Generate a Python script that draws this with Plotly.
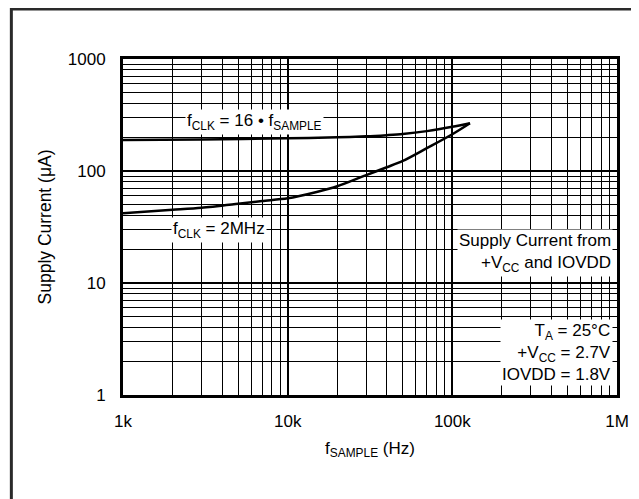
import plotly.graph_objects as go

# Data
f_sample_16 = [1000, 3000, 10000, 20000, 30000, 40000, 50000, 70000, 100000, 128000]
i_16 = [189, 191, 196, 200, 204, 209, 214, 227, 248, 267]

f_sample_2m = [1000, 2000, 3000, 5000, 7000, 10000, 15000, 20000, 30000, 40000, 50000, 70000, 100000, 128000]
i_2m = [42, 45, 47, 51, 54, 57, 65, 73, 92, 108, 123, 160, 213, 267]

x_tickvals = [1e3, 1e4, 1e5, 1e6]
x_ticktext = ["1k", "10k", "100k", "1M"]
y_tickvals = [1, 10, 100, 1000]
y_ticktext = ["1", "10", "100", "1000"]

FONT = "Liberation Sans, Arial, sans-serif"
FS = 17

fig = go.Figure()
fig.add_trace(go.Scatter(x=f_sample_16, y=i_16, mode="lines",
                         line=dict(color="black", width=2.5, shape="spline", smoothing=0.8),
                         showlegend=False))
fig.add_trace(go.Scatter(x=f_sample_2m, y=i_2m, mode="lines",
                         line=dict(color="black", width=2.5, shape="spline", smoothing=0.8),
                         showlegend=False))

axis_common = dict(
    type="log", showline=True, linecolor="black", linewidth=3, mirror=True,
    showgrid=True, gridcolor="black", gridwidth=1.6,
    ticks="", zeroline=False,
    tickfont=dict(family=FONT, size=FS, color="black"),
    minor=dict(dtick="D1", showgrid=True, gridcolor="black", gridwidth=1, ticks=""),
)

fig.update_xaxes(range=[3, 6], tickvals=x_tickvals, ticktext=x_ticktext,
                 title=dict(text="f<sub>SAMPLE</sub> (Hz)", font=dict(family=FONT, size=FS, color="black"),
                            standoff=12),
                 ticklabelstandoff=9, **axis_common)
fig.update_yaxes(range=[0, 3], tickvals=y_tickvals, ticktext=y_ticktext,
                 title=dict(text="Supply Current (μA)", font=dict(family=FONT, size=FS + 0.5, color="black"),
                            standoff=12),
                 ticklabelstandoff=11, **axis_common)

ann_font = dict(family=FONT, size=FS, color="black")
annotations = [
    dict(x=0.267, y=0.8125, text="f<sub>CLK</sub> = 16 • f<sub>SAMPLE</sub>",
         xanchor="center", yanchor="middle"),
    dict(x=0.194, y=0.491, text="f<sub>CLK</sub> = 2MHz",
         xanchor="center", yanchor="middle"),
    dict(x=0.992, y=0.424, text="Supply Current from<br>+V<sub>CC</sub> and IOVDD",
         xanchor="right", yanchor="middle", align="right"),
    dict(x=0.992, y=0.1265, text="T<sub>A</sub> = 25°C<br>+V<sub>CC</sub> = 2.7V<br>IOVDD = 1.8V",
         xanchor="right", yanchor="middle", align="right"),
]
for a in annotations:
    fig.add_annotation(xref="paper", yref="paper", showarrow=False, bgcolor="white",
                       borderpad=1, font=ann_font, **a)

# outer frame
fig.add_shape(type="rect", xref="paper", yref="paper",
              x0=-0.226, y0=-0.36, x1=1.1, y1=1.1488,
              line=dict(color="#2a2a2a", width=3), fillcolor="rgba(0,0,0,0)", layer="below")

fig.update_layout(
    width=639, height=499,
    margin=dict(l=115, r=30, t=51, b=112),
    paper_bgcolor="white", plot_bgcolor="white",
    font=dict(family=FONT, size=FS, color="black"),
)

fig.write_html("out.html")
